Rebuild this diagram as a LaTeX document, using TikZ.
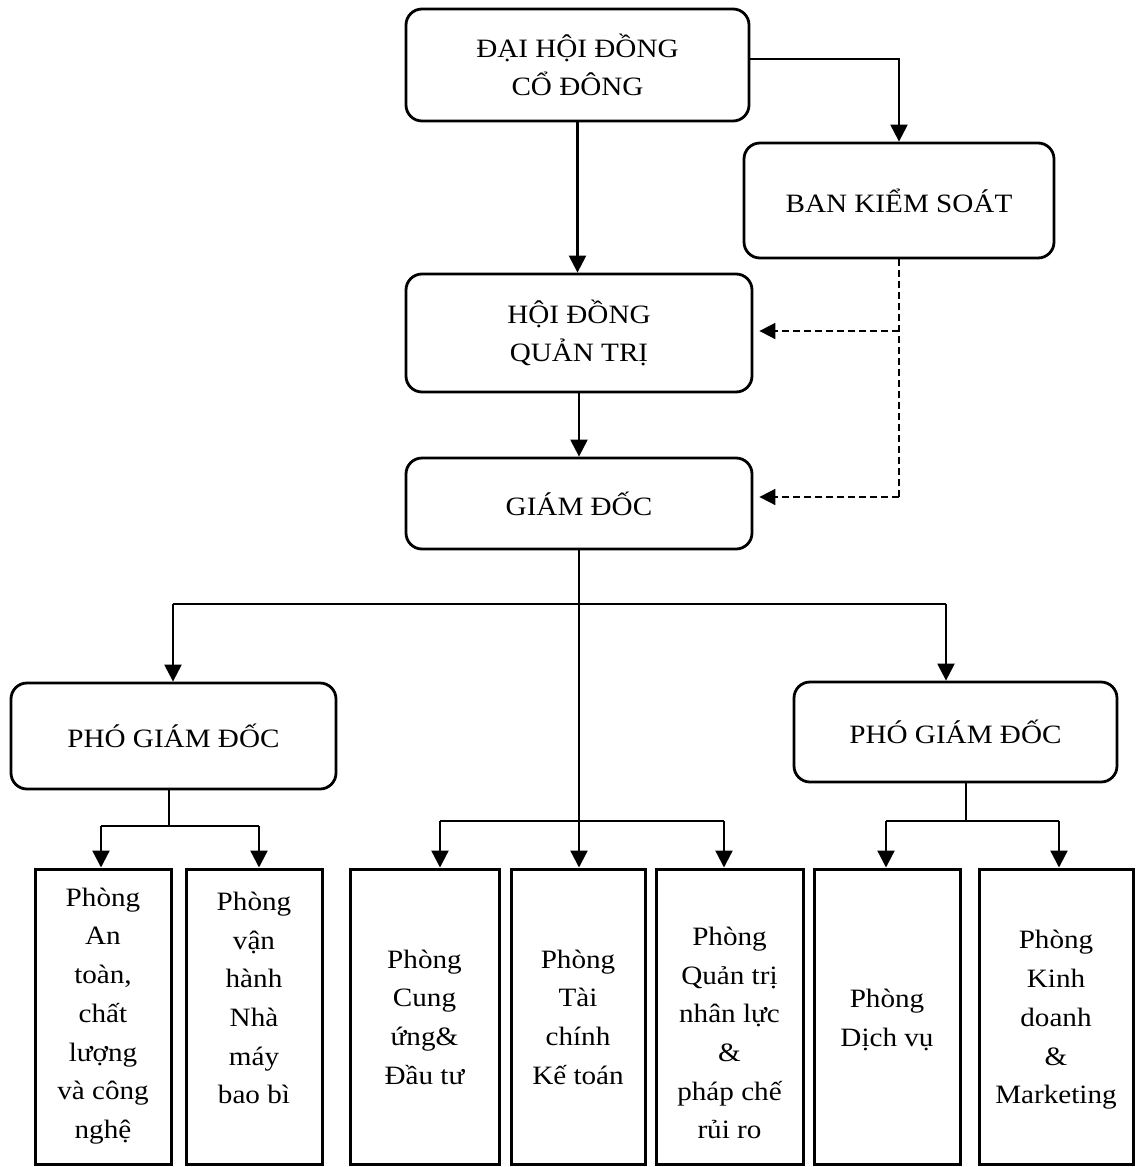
\documentclass[tikz,border=0pt]{standalone}
\usepackage{fontspec}
\setmainfont{Liberation Serif}[FakeStretch=1.1]
\usetikzlibrary{arrows.meta}
\begin{document}
\begin{tikzpicture}[x=1pt,y=-1pt,
  every node/.style={font=\fontsize{26.5}{38.7}\selectfont, align=center, inner sep=0pt},
  rbox/.style={draw, line width=2.8pt, rounded corners=16pt},
  sqbox/.style={draw, line width=3pt, minimum height=295pt},
  conn/.style={line width=2.3pt},
  arr/.style={conn, -{Triangle[width=17pt,length=17pt]}},
  dline/.style={line width=1.8pt, dash pattern=on 7pt off 4pt},
  darr/.style={dline, -{Triangle[width=16pt,length=16pt]}, shorten >=6pt},
]
\useasboundingbox (0,0) rectangle (1135,1167);

% upper boxes
\node[rbox, minimum width=343pt, minimum height=112pt] (dhd) at (577.5,65) {ĐẠI HỘI ĐỒNG\\CỔ ĐÔNG};
\node[rbox, minimum width=310pt, minimum height=115pt] (bks) at (899,200.5) {BAN KIỂM SOÁT};
\node[rbox, minimum width=346pt, minimum height=118pt] (hdqt) at (579,333) {HỘI ĐỒNG\\QUẢN TRỊ};
\node[rbox, minimum width=346pt, minimum height=91pt] (gd) at (579,503.5) {GIÁM ĐỐC};
\node[rbox, minimum width=325pt, minimum height=106pt] (pgd1) at (173.5,736) {PHÓ GIÁM ĐỐC};
\node[rbox, minimum width=323pt, minimum height=100pt] (pgd2) at (955.5,732) {PHÓ GIÁM ĐỐC};

% department boxes
\node[sqbox, minimum width=136pt] (b1) at (103,1016.5) {};
\node[sqbox, minimum width=136pt] (b2) at (254,1016.5) {};
\node[sqbox, minimum width=149pt] (b3) at (424.5,1016.5) {};
\node[sqbox, minimum width=134pt] (b4) at (578,1016.5) {};
\node[sqbox, minimum width=147pt] (b5) at (729.5,1016.5) {};
\node[sqbox, minimum width=146pt] (b6) at (887,1016.5) {};
\node[sqbox, minimum width=154pt] (b7) at (1056,1016.5) {};

\node (t1) at (103,1016) {Phòng\\An\\toàn,\\chất\\lượng\\và công\\nghệ};
\node (t2) at (254,998) {Phòng\\vận\\hành\\Nhà\\máy\\bao bì};
\node (t3) at (424.5,1017) {Phòng\\Cung\\ứng\&\\Đầu tư};
\node (t4) at (578,1017) {Phòng\\Tài\\chính\\Kế toán};
\node (t5) at (729.5,1033) {Phòng\\Quản trị\\nhân lực\\\&\\pháp chế\\rủi ro};
\node (t6) at (887,1020) {Phòng\\Dịch vụ};
\node (t7) at (1056,1020) {Phòng\\Kinh\\doanh\\\&\\Marketing};

% solid connectors
\draw[arr] ([yshift=6pt]dhd.east) -| (bks.north);
\draw[arr] (dhd.south) -- (dhd.south |- hdqt.north);
\draw[arr] (hdqt.south) -- (gd.north);
\draw[arr] (gd.south) -- (gd.south |- b4.north);

% dashed control lines
\coordinate (d1) at (899,331);
\coordinate (d2) at (899,497);
\draw[dline] (bks.south) -- (d2);
\draw[darr] (d1) -- (hdqt.east |- d1);
\draw[darr] (d2) -- (gd.east |- d2);

% to deputy directors
\coordinate (hl) at (173,604);
\coordinate (hr) at (946,604);
\draw[conn] (hl) -- (hr);
\draw[arr] (hl) -- (hl |- pgd1.north);
\draw[arr] (hr) -- (hr |- pgd2.north);

% left deputy branch
\coordinate (ls) at (169,826);
\coordinate (la) at (101,826);
\coordinate (lb) at (259,826);
\draw[conn] (ls |- pgd1.south) -- (ls);
\draw[conn] (la) -- (lb);
\draw[arr] (la) -- (la |- b1.north);
\draw[arr] (lb) -- (lb |- b2.north);

% centre branch
\coordinate (ca) at (440,821);
\coordinate (cb) at (724,821);
\draw[conn] (ca) -- (cb);
\draw[arr] (ca) -- (ca |- b3.north);
\draw[arr] (cb) -- (cb |- b5.north);

% right deputy branch
\coordinate (rs) at (966,821);
\coordinate (ra) at (886,821);
\coordinate (rb) at (1059,821);
\draw[conn] (rs |- pgd2.south) -- (rs);
\draw[conn] (ra) -- (rb);
\draw[arr] (ra) -- (ra |- b6.north);
\draw[arr] (rb) -- (rb |- b7.north);
\end{tikzpicture}
\end{document}
